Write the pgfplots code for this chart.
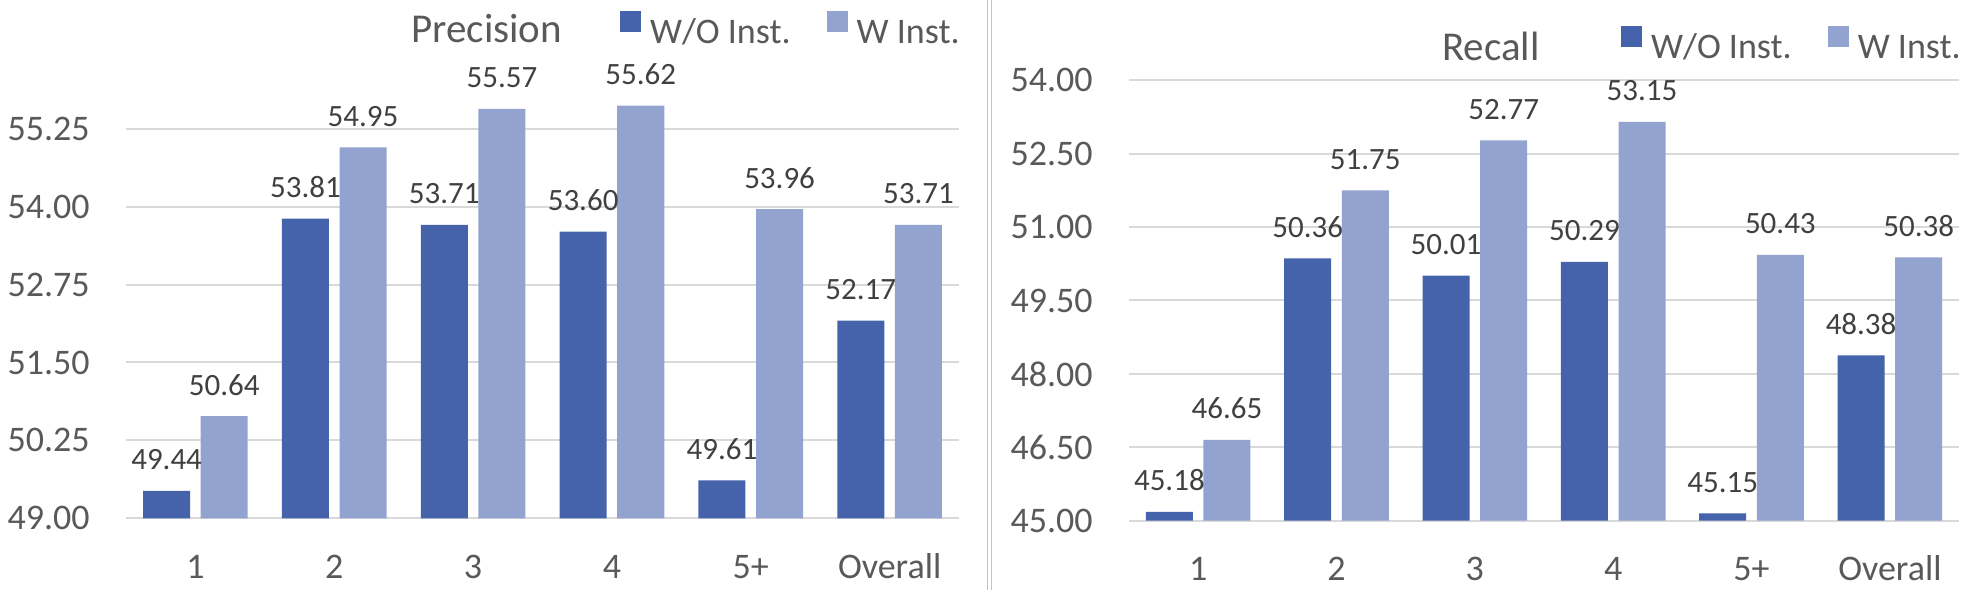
\documentclass[border=0pt]{standalone}
\usepackage{fontspec}
\setmainfont{Carlito}
\usepackage{pgfplots}
\pgfplotsset{compat=1.18}

\definecolor{darkbar}{HTML}{4463AA}
\definecolor{lightbar}{HTML}{93A3D0}
\definecolor{gridgray}{HTML}{D9D9D9}
\definecolor{labgray}{HTML}{595959}
\definecolor{valgray}{HTML}{404040}

\pgfplotsset{
  panel/.style={
    ybar, enlargelimits=false,
    axis lines*=left,
    y axis line style={draw=none},
    x axis line style={draw=gridgray, line width=1bp},
    ymajorgrids, grid style={draw=gridgray, line width=1bp},
    major tick length=0pt, tick style={draw=none},
    xmin=-0.5, xmax=5.5,
    xtick={0,...,5}, xticklabels={1,2,3,4,5+,Overall},
    tick label style={font=\fontsize{18bp}{20bp}\selectfont, text=labgray, inner sep=0pt},
    yticklabel style={anchor=east, xshift=-18bp},
    xticklabel style={anchor=base, yshift=-30bp},
    yticklabel={\pgfmathprintnumber[fixed,fixed zerofill,precision=2,assume math mode=true]{\tick}},
    nodes near coords={\pgfmathprintnumber[fixed,fixed zerofill,precision=2,assume math mode=true]{\pgfplotspointmeta}},
    every node near coord/.append style={anchor=base, inner sep=0pt, yshift=10.5bp,
      font=\fontsize{15.5bp}{18bp}\selectfont, text=valgray},
    bar width=23.5bp,
    legend columns=2,
    legend style={draw=none, fill=none, inner sep=0pt, outer sep=0pt, anchor=north west,
      column sep=4.5bp,
      font=\fontsize{18bp}{20bp}\selectfont, text=labgray,
      nodes={inner sep=0pt, text height=11bp, text depth=0pt},
      /tikz/every even column/.append style={column sep=18bp}},
    legend image code/.code={\fill[##1] (0bp,0bp) rectangle (10.5bp,10.5bp);},
    every axis title shift=0pt,
    title style={anchor=base west, inner sep=0pt,
      font=\fontsize{20.5bp}{24bp}\selectfont, text=labgray},
  },
  wo/.style={fill=darkbar, draw=none, bar shift=-14.4bp},
  wi/.style={fill=lightbar, draw=none, bar shift=14.4bp},
}

\begin{document}
\begin{tikzpicture}
\useasboundingbox (0,0) rectangle (985bp,295bp);

% Precision
\begin{axis}[panel,
  at={(63bp,35.85bp)}, anchor=south west,
  x=69.42bp, y=31.16bp,
  ymin=49, ymax=56.5,
  ytick={49,50.25,51.5,52.75,54,55.25},
  title={Precision}, title style={at={(0.342,1.017)}},
  legend style={at={(0.593,1.085)}},
]
\addplot[wo] coordinates {(0,49.44) (1,53.81) (2,53.71) (3,53.60) (4,49.61) (5,52.17)};
\addlegendentry{W/O Inst.}
\addplot[wi] coordinates {(0,50.64) (1,54.95) (2,55.57) (3,55.62) (4,53.96) (5,53.71)};
\addlegendentry{W Inst.}
\end{axis}

% separator
\draw[gridgray!90!black, line width=0.75bp] (493.75bp,0) -- (493.75bp,295bp);
\draw[gridgray!90!black, line width=0.75bp] (495.75bp,0) -- (495.75bp,295bp);

% Recall
\begin{axis}[panel,
  at={(564.5bp,34.65bp)}, anchor=south west,
  x=69.17bp, y=24.47bp,
  ymin=45, ymax=54,
  ytick={45,46.5,48,49.5,51,52.5,54},
  title={Recall}, title style={at={(0.377,1.0444)}},
  legend style={at={(0.5928,1.122)}},
]
\addplot[wo] coordinates {(0,45.18) (1,50.36) (2,50.01) (3,50.29) (4,45.15) (5,48.38)};
\addlegendentry{W/O Inst.}
\addplot[wi] coordinates {(0,46.65) (1,51.75) (2,52.77) (3,53.15) (4,50.43) (5,50.38)};
\addlegendentry{W Inst.}
\end{axis}
\end{tikzpicture}
\end{document}
